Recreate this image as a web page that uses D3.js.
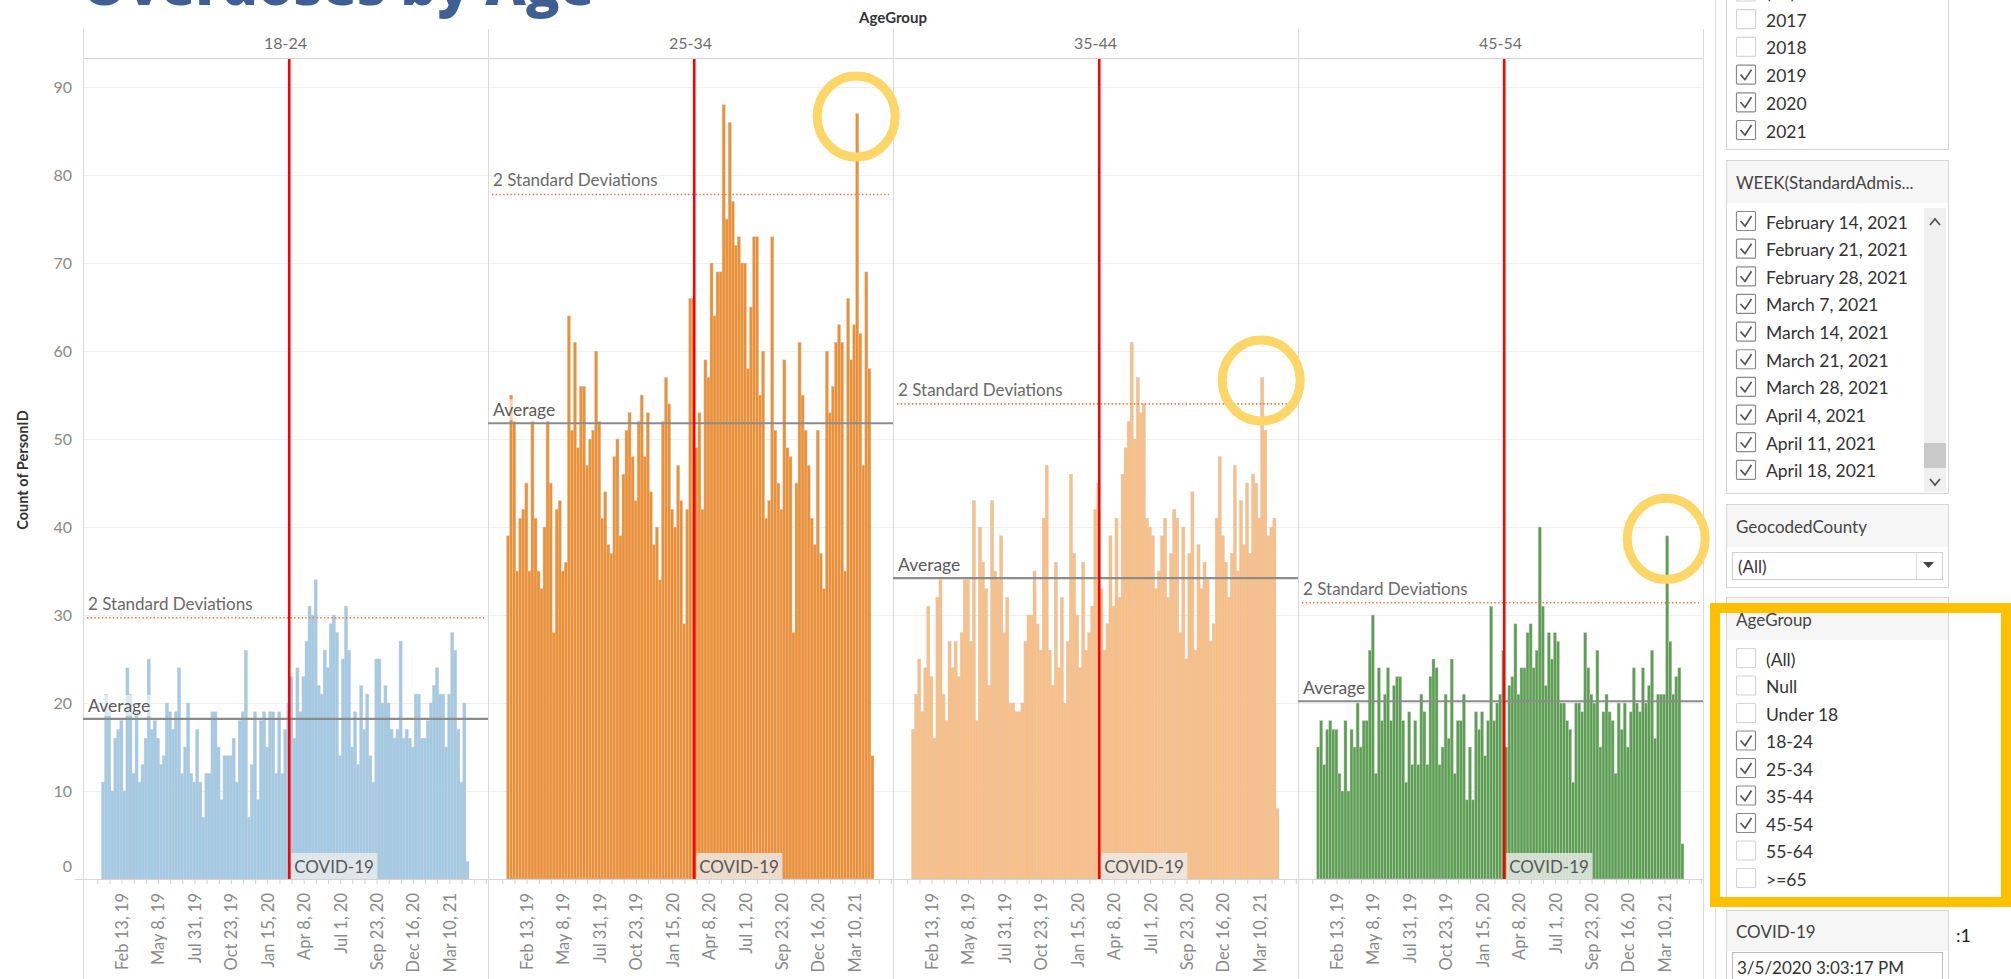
<!DOCTYPE html>
<html><head><meta charset="utf-8">
<script src="https://cdn.jsdelivr.net/npm/d3@7"></script>
<style>
body{margin:0;background:#fff;overflow:hidden}
svg{display:block;font-family:Lato,"Open Sans",sans-serif}
</style></head><body>
<svg id="c" width="2011" height="979"></svg>
<script>
// ---------------- DATA ----------------
const ageGroups = ["18-24","25-34","35-44","45-54"];
const groupColors = ["#a0cbe8","#f28e2b","#ffbe7d","#59a14f"];
const firstWeek = "2018-12-30";
const v1824 = [11,21,19,10,16,17,18,10,24,21,12,19,11,13,16,25,17,18,16,13,14,20,19,17,19,24,12,15,20,12,11,17,11,7,12,12,19,19,15,9,14,14,14,16,11,18,19,26,7,13,19,9,18,19,15,19,19,12,19,12,17,
  20,23,16,24,19,23,27,31,30,34,22,21,26,24,29,30,28,14,25,31,26,15,19,13,22,17,21,14,11,25,25,20,22,20,17,16,17,27,16,17,16,15,21,21,16,16,18,20,22,24,21,21,15,21,28,26,17,11,20,2];
const v2534 = [39,55,52,35,41,42,45,35,52,41,35,33,40,52,45,28,42,43,35,36,64,51,61,49,56,56,47,50,51,60,52,41,44,38,37,48,50,39,46,51,53,48,43,52,55,48,53,44,38,40,34,52,57,54,42,40,47,43,29,42,66,66,
  49,53,42,59,57,70,64,69,69,88,75,86,77,72,73,70,70,58,65,73,73,55,60,41,43,73,51,45,42,59,49,48,28,45,61,55,51,47,41,38,51,37,33,60,53,56,61,63,61,35,66,59,63,87,62,47,69,58,14];
const v3544 = [17,21,25,19,24,31,23,16,32,34,21,18,27,24,27,23,28,34,34,27,43,18,40,36,33,22,43,35,34,39,28,32,20,20,19,19,20,27,30,30,35,29,26,41,47,26,22,36,24,32,20,27,46,37,30,24,36,26,28,31,42,
  45,33,26,29,39,31,41,32,46,49,52,61,50,57,53,54,41,40,39,33,35,39,41,32,37,42,41,28,40,25,37,44,26,38,33,36,34,27,29,41,48,39,36,32,37,47,35,43,38,45,37,46,45,41,57,51,39,40,41,8];
const v4554 = [15,18,13,17,18,17,17,12,10,18,10,17,15,20,15,18,18,26,30,12,24,18,21,24,18,22,23,23,18,11,19,13,18,13,21,19,13,23,25,24,13,15,21,16,25,12,18,18,21,9,15,9,19,17,19,14,18,31,18,20,21,
  26,15,22,23,29,21,24,24,28,29,24,26,40,31,22,28,25,28,27,20,20,18,17,11,20,20,19,28,24,21,20,26,15,19,21,19,18,12,20,17,20,15,19,24,20,19,24,20,22,26,16,21,21,21,39,27,21,23,24,4];
const averages = [18.2, 51.8, 34.2, 20.2];
const twoSD = [29.7, 77.8, 54.0, 31.4];
const yTicks = [0,10,20,30,40,50,60,70,80,90];
const xTickLabels = ["Feb 13, 19","May 8, 19","Jul 31, 19","Oct 23, 19","Jan 15, 20","Apr 8, 20","Jul 1, 20","Sep 23, 20","Dec 16, 20","Mar 10, 21"];
const covidDate = "2020-03-05T15:03:17";
const highlightWeek = [null, 115, 115, 115];
const yearItems = ["(All)","2017","2018","2019","2020","2021"];
const yearChecked = [false,false,false,true,true,true];
const weekItems = ["February 14, 2021","February 21, 2021","February 28, 2021","March 7, 2021","March 14, 2021","March 21, 2021","March 28, 2021","April 4, 2021","April 11, 2021","April 18, 2021"];
const ageItems = ["(All)","Null","Under 18","18-24","25-34","35-44","45-54","55-64",">=65"];
const ageChecked = [false,false,false,true,true,true,true,false,false];
const series = [v1824, v2534, v3544, v4554];

// ---------------- LAYOUT ----------------
const svg = d3.select("#c");
const paneTop = 59, paneBottom = 879, facetLeft = 83, facetRight = 1703;
const y = d3.scaleLinear().domain([0, 93.2]).range([paneBottom, paneTop]);
const fx = d3.scaleBand().domain(ageGroups).range([facetLeft, facetRight]);
const x = d3.scaleTime().domain([new Date(2018,10,16), new Date(2021,5,7)]).range([0, fx.bandwidth()]);
const parseDay = d3.timeParse("%Y-%m-%d");
const start = parseDay(firstWeek);
const weeks = v1824.map((_, i) => d3.timeWeek.offset(start, i));
const barW = x(weeks[1]) - x(weeks[0]);
const barX = d => x(d3.timeHour.offset(d, 60));
const parseLbl = d3.timeParse("%b %d, %y");
const labelDates = xTickLabels.map(parseLbl);
const tickStart = d3.timeDay.offset(labelDates[0], -56);
const minorTicks = d3.range(0, 40).map(k => d3.timeDay.offset(tickStart, 28*k)).filter(d => d <= x.domain()[1]);
const fmtKey = d3.timeFormat("%Y-%m-%d");
const lblMap = new Map(labelDates.map((d,i) => [fmtKey(d), xTickLabels[i]]));
const covid = d3.isoParse(covidDate) || new Date(2020,2,5,15,3,17);

// Title (cut off at top)
svg.append("text").attr("x", 82).attr("y", 5).attr("font-size", 56).attr("font-weight", 800)
  .attr("font-family", "'Open Sans',sans-serif").attr("fill", "#3f5f94").text("Overdoses by Age");

// Column header title
svg.append("text").attr("x", (facetLeft+facetRight)/2).attr("y", 17).attr("text-anchor","middle")
  .attr("dominant-baseline","central").attr("font-size", 15).attr("font-weight", 700).attr("fill","#333").text("AgeGroup");

// Y title
svg.append("text").attr("transform", "translate(22,470) rotate(-90)").attr("text-anchor","middle")
  .attr("dominant-baseline","central").attr("font-size", 14.5).attr("font-weight", 700).attr("fill","#333").text("Count of PersonID");

// Y axis
const ya = svg.append("g").attr("transform", "translate(72,0)")
  .call(d3.axisLeft(y).tickValues(yTicks).tickSize(0).tickPadding(0));
ya.select(".domain").remove();
ya.selectAll("text").attr("font-size", 16).attr("fill", "#8a8a8a").attr("font-family","Lato,sans-serif")
  .attr("dy", d => d === 0 ? "-0.45em" : "0.32em");

// gridlines
ageGroups.forEach(g => {
  svg.append("g").selectAll("line").data(yTicks.filter(v => v > 0)).join("line")
    .attr("x1", fx(g)).attr("x2", fx(g) + fx.bandwidth())
    .attr("y1", d => Math.round(y(d)) + 0.5).attr("y2", d => Math.round(y(d)) + 0.5)
    .attr("stroke", "#efefef").attr("stroke-width", 1);
});

// baseline
svg.append("line").attr("x1", 75).attr("x2", facetRight).attr("y1", paneBottom + 0.5).attr("y2", paneBottom + 0.5)
  .attr("stroke", "#d8d8d8");

// header line + pane separators
svg.append("line").attr("x1", facetLeft).attr("x2", facetRight).attr("y1", paneTop - 0.5).attr("y2", paneTop - 0.5).attr("stroke", "#d4d4d4");
svg.append("g").selectAll("line").data(ageGroups.map(g => fx(g)).concat([facetRight])).join("line")
  .attr("x1", d => d + 0.5).attr("x2", d => d + 0.5).attr("y1", 29).attr("y2", 979).attr("stroke", "#dadada");

ageGroups.forEach((g, gi) => {
  const gx = fx(g);
  const pane = svg.append("g").attr("transform", `translate(${gx},0)`);
  // header
  svg.append("text").attr("x", gx + fx.bandwidth()/2).attr("y", 42).attr("text-anchor","middle")
    .attr("dominant-baseline","central").attr("font-size", 16).attr("fill","#6e6e6e").text(g);
  // bars
  pane.append("g").selectAll("rect").data(series[gi]).join("rect")
    .attr("x", (d,i) => barX(weeks[i]) - barW/2).attr("width", barW)
    .attr("y", d => y(d)).attr("height", d => y(0) - y(d))
    .attr("fill", groupColors[gi]).attr("stroke", "rgba(200,200,200,0.75)").attr("stroke-width", 0.6);
  // x axis
  const xa = pane.append("g").attr("transform", `translate(0,${paneBottom})`)
    .call(d3.axisBottom(x).tickValues(minorTicks).tickSize(5).tickFormat(d => lblMap.get(fmtKey(d)) || ""));
  xa.select(".domain").remove();
  xa.selectAll(".tick line").attr("stroke", "#d0d0d0");
  xa.selectAll("text").attr("transform", "rotate(-90)").attr("x", -14).attr("y", 0).attr("dy", "0.36em")
    .style("text-anchor", "end").attr("font-size", 16.5).attr("fill", "#8a8a8a").attr("font-family","Lato,sans-serif");
  // 2 SD line
  const sdY = y(twoSD[gi]);
  pane.append("line").attr("x1", 4).attr("x2", fx.bandwidth() - 4).attr("y1", sdY).attr("y2", sdY)
    .attr("stroke", "#f0743e").attr("stroke-width", 1.6).attr("stroke-dasharray", "1.4 2.3");
  // average line
  const avY = y(averages[gi]);
  pane.append("line").attr("x1", 0).attr("x2", fx.bandwidth()).attr("y1", avY).attr("y2", avY)
    .attr("stroke", "#8c8c8c").attr("stroke-width", 2.2);
  // labels with soft background
  const sdT = pane.append("text").attr("x", 5).attr("y", sdY - 8).attr("font-size", 17).attr("fill", "#6a6a6a").text("2 Standard Deviations");
  const avT = pane.append("text").attr("x", 5).attr("y", avY - 7).attr("font-size", 17.5).attr("fill", "#5a5a5a").text("Average");
  [sdT, avT].forEach(t => {
    const b = t.node().getBBox();
    pane.insert("rect", () => t.node()).attr("x", b.x - 1).attr("y", b.y).attr("width", b.width + 2).attr("height", b.height)
      .attr("fill", "rgba(255,255,255,0.6)");
  });
  // COVID line
  const cx = x(covid);
  pane.append("line").attr("x1", cx).attr("x2", cx).attr("y1", paneTop).attr("y2", paneBottom)
    .attr("stroke", "#ff0000").attr("stroke-width", 2.6);
  pane.append("rect").attr("x", cx + 2).attr("y", paneBottom - 26).attr("width", 86).attr("height", 26)
    .attr("fill", "rgba(236,236,236,0.8)");
  pane.append("text").attr("x", cx + 5).attr("y", paneBottom - 6).attr("font-size", 17).attr("fill", "#585858").text("COVID-19");
  // highlight circle
  if (highlightWeek[gi] !== null) {
    const hi = highlightWeek[gi];
    pane.append("ellipse").attr("cx", barX(weeks[hi]) - 1).attr("cy", y(series[gi][hi]) + 3)
      .attr("rx", 39).attr("ry", 40.5).attr("fill", "none").attr("stroke", "#fdd668").attr("stroke-width", 9);
  }
});

// ---------------- SIDEBAR ----------------
svg.append("line").attr("x1", 1715.5).attr("x2", 1715.5).attr("y1", 0).attr("y2", 979).attr("stroke", "#e2e2e2");
const side = svg.append("g");
const bx = 1726, bw = 222;
function box(y0, y1) {
  side.append("rect").attr("x", bx + 0.5).attr("y", y0 + 0.5).attr("width", bw).attr("height", y1 - y0).attr("fill", "#fff").attr("stroke", "#d6d6d6");
}
function header(y0, h, label) {
  side.append("rect").attr("x", bx + 1).attr("y", y0 + 1).attr("width", bw - 1).attr("height", h).attr("fill", "#f6f6f6");
  side.append("text").attr("x", bx + 10).attr("y", y0 + h/2 + 1).attr("dominant-baseline","central").attr("font-size", 17).attr("fill", "#444").text(label);
}
function checklist(items, checked, y0, step) {
  items.forEach((t, i) => {
    const cy = y0 + i*step;
    side.append("rect").attr("x", 1736.5).attr("y", cy - 9.5).attr("width", 19).attr("height", 19).attr("rx", 1)
      .attr("fill", "#fff").attr("stroke", checked[i] ? "#8a8a8a" : "#d4d4d4").attr("stroke-width", 1.2);
    if (checked[i]) side.append("path").attr("d", `M${1740.5},${cy} L${1745},${cy + 5} L${1751.5},${cy - 5}`)
      .attr("fill", "none").attr("stroke", "#555").attr("stroke-width", 1.7);
    side.append("text").attr("x", 1766).attr("y", cy + 1).attr("dominant-baseline","central").attr("font-size", 17.5).attr("fill", "#333").text(t);
  });
}
// years
box(-20, 149);
checklist(yearItems, yearChecked, -8.5, 27.7);
// week
box(160, 493);
header(160, 42, "WEEK(StandardAdmis...");
side.append("rect").attr("x", 1924).attr("y", 208).attr("width", 22).attr("height", 284).attr("fill", "#f0f0f0");
side.append("rect").attr("x", 1924).attr("y", 443).attr("width", 22).attr("height", 25).attr("fill", "#c9c9c9");
side.append("path").attr("d", "M1930,225 L1935,219 L1940,225").attr("fill","none").attr("stroke","#555").attr("stroke-width",1.8);
side.append("path").attr("d", "M1930,479 L1935,485 L1940,479").attr("fill","none").attr("stroke","#555").attr("stroke-width",1.8);
checklist(weekItems, weekItems.map(() => true), 221, 27.65);
// county
box(504, 587);
header(504, 42, "GeocodedCounty");
side.append("rect").attr("x", 1732.5).attr("y", 552.5).attr("width", 210).attr("height", 27).attr("fill", "#fff").attr("stroke", "#cfcfcf");
side.append("line").attr("x1", 1916.5).attr("x2", 1916.5).attr("y1", 553).attr("y2", 579).attr("stroke", "#dcdcdc");
side.append("path").attr("d", "M1923,562 L1934,562 L1928.5,568 Z").attr("fill", "#444");
side.append("text").attr("x", 1738).attr("y", 566.5).attr("dominant-baseline","central").attr("font-size", 17).attr("fill", "#333").text("(All)");
// age group
box(597, 905);
header(597, 42, "AgeGroup");
checklist(ageItems, ageChecked, 658, 27.5);
// covid param
box(910, 1000);
header(910, 40, "COVID-19");
side.append("rect").attr("x", 1732.5).attr("y", 952.5).attr("width", 210).attr("height", 40).attr("fill", "#fff").attr("stroke", "#bdbdbd");
side.append("text").attr("x", 1737).attr("y", 967).attr("dominant-baseline","central").attr("font-size", 17).attr("fill", "#333").text("3/5/2020 3:03:17 PM");
side.append("text").attr("x", 1956).attr("y", 935).attr("dominant-baseline","central").attr("font-size", 18).attr("fill", "#222").text(":1");
// highlight rect
svg.append("rect").attr("x", 1715).attr("y", 608).attr("width", 291).attr("height", 294)
  .attr("fill", "none").attr("stroke", "#ffc000").attr("stroke-width", 10);
</script>
</body></html>
